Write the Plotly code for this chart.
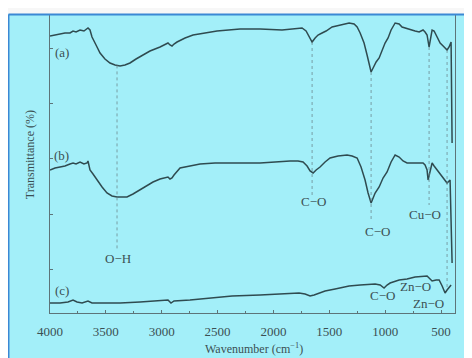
import numpy as np
import plotly.graph_objects as go

# ---------------- data ----------------
# wavenumber (cm^-1) and transmittance (arbitrary, offset units)
wn_a = [4000,3955,3910,3866,3821,3794,3767,3731,3696,3660,3642,3624,3588,3552,3508,3463,3418,3373,3329,3284,
        3230,3167,3105,3015,2961,2944,2926,2908,2890,2863,2791,2720,2612,2505,2299,2119,1923,1806,1744,1708,
        1672,1654,1627,1601,1565,1529,1475,1404,1323,1278,1251,1224,1189,1162,1144,1126,1108,1081,1054,1028,
        1001,974,947,911,875,849,822,777,732,696,661,643,625,607,598,580,562,553,526,508,481,446,428,410,401]
t_a = [277,278,279,280,280,282,281,283,282,285,283,276,268,260,254,250,248,247,248,250,
       254,258,262,266,269,270,268,267,269,271,275,278,280,282,284,284,283,284,285,282,
       275,271,275,278,280,282,286,288,290,289,286,280,270,258,248,241,245,251,255,263,
       270,275,283,290,289,286,285,283,282,281,283,281,278,266,273,283,282,280,275,270,267,263,266,271,170]

wn_b = [4000,3955,3910,3866,3821,3794,3767,3731,3696,3669,3660,3642,3615,3579,3534,3490,3445,3400,3355,3311,
        3257,3194,3132,3078,3015,2961,2944,2926,2908,2890,2863,2836,2747,2657,2523,2415,2120,1851,1780,1735,
        1699,1672,1645,1618,1583,1538,1493,1422,1341,1296,1251,1216,1180,1153,1126,1108,1090,1054,1019,983,
        947,911,875,840,804,741,687,661,643,625,616,598,580,562,535,499,464,446,419,401]
t_b = [143,145,146,147,149,150,149,151,149,150,152,143,139,133,126,120,117,116,116,116,
       119,123,127,131,134,136,136,134,135,138,142,145,147,149,150,150,150,152,152,151,
       147,142,140,143,146,151,155,157,158,157,155,146,133,120,110,115,120,126,135,141,
       151,158,156,152,150,150,150,150,148,143,133,141,150,147,143,137,132,130,133,50]

wn_c = [4000,3910,3839,3794,3758,3713,3660,3624,3552,3373,3194,3015,2944,2917,2890,2747,2567,2370,2120,1941,
        1771,1717,1672,1636,1583,1538,1448,1323,1224,1090,1045,1010,983,956,875,804,732,669,625,598,
        580,544,517,490,464,446,428,410]
t_c = [10,10,11,13,11,10,12,10,10,10,11,12,13,10,12,13,15,17,18,19,
       20,19,17,18,20,22,24,27,28,29,28,25,28,30,33,34,36,37,37,34,
       32,33,33,27,20,23,25,28]

# assigned bands: wavenumber and the level where each dotted guide ends
band_wn = [3400, 1654, 1126, 607, 446]
band_end = [63, 118, 91, 108, 25]

# text labels
lab_text = ["(a)", "(b)", "(c)", "O\u2212H", "C\u2212O", "C\u2212O", "Cu\u2212O", "C\u2212O", "Zn\u2212O", "Zn\u2212O"]
lab_wn   = [3893, 3893, 3893, 3391, 1645, 1072, 643, 1028, 732, 616]
lab_t    = [261, 158, 23, 55, 112, 82, 99, 18, 27, 10]

x_ticks = [4000, 3500, 3000, 2500, 2000, 1500, 1000, 500]
y_ticks = [44, 99, 155, 210, 265]

# ---------------- style ----------------
CYAN = "#a3eff9"
LINE = "#2f4b50"
AXIS = "#5d7479"
TXT = "#3b4f53"
FONT = "Liberation Serif"

fig = go.Figure()
for wn, t in [(wn_a, t_a), (wn_b, t_b), (wn_c, t_c)]:
    fig.add_trace(go.Scatter(x=wn, y=t, mode="lines",
                             line=dict(color=LINE, width=1.5), hoverinfo="skip",
                             showlegend=False))

# dotted guides from curve (a) down to their label
wa = np.array(wn_a[::-1], dtype=float)
ta = np.array(t_a[::-1], dtype=float)
for w, e in zip(band_wn, band_end):
    top = float(np.interp(w, wa, ta))
    fig.add_trace(go.Scatter(x=[w, w], y=[top, e], mode="lines",
                             line=dict(color="#6d8a90", width=0.8, dash="dot"),
                             hoverinfo="skip", showlegend=False))

for s, w, t in zip(lab_text, lab_wn, lab_t):
    fig.add_annotation(x=w, y=t, text=s, showarrow=False,
                       font=dict(family=FONT, size=13, color=TXT),
                       xanchor="center", yanchor="middle")

# axis titles
fig.add_annotation(xref="paper", yref="paper", x=0.504, y=-0.118,
                   text="Wavenumber (cm<sup>\u22121</sup>)", showarrow=False,
                   font=dict(family=FONT, size=12, color=TXT),
                   xanchor="center", yanchor="middle")
fig.add_annotation(xref="paper", yref="paper", x=-0.049, y=0.53,
                   text="Transmittance (%)", showarrow=False, textangle=-90,
                   font=dict(family=FONT, size=12, color=TXT),
                   xanchor="center", yanchor="middle")

# frame: white strip at the top and blue border
fig.add_shape(type="rect", xref="paper", yref="paper", x0=-0.2, x1=1.1, y0=1.0034, y1=1.2,
              fillcolor="#f7f7f7", line=dict(width=0), layer="above")
fig.add_shape(type="line", xref="paper", yref="paper", x0=-0.1025, x1=1.1, y0=1.0017, y1=1.0017,
              line=dict(color="#3b88d4", width=2), layer="above")
fig.add_shape(type="line", xref="paper", yref="paper", x0=-0.1025, x1=-0.1025, y0=-0.3, y1=1.0017,
              line=dict(color="#3b88d4", width=2), layer="above")

fig.update_layout(
    width=464, height=350,
    margin=dict(l=42, r=17, t=7, b=45),
    paper_bgcolor=CYAN, plot_bgcolor=CYAN,
    showlegend=False,
    xaxis=dict(range=[4000, 375], tickvals=x_ticks, ticks="inside", ticklen=3,
               tickcolor=AXIS, showline=True, linecolor=AXIS, linewidth=1,
               showgrid=False, zeroline=False, ticklabelstandoff=6,
               minor=dict(dtick=250, ticks="inside", ticklen=2, tickcolor=AXIS),
               tickfont=dict(family=FONT, size=13, color=TXT)),
    yaxis=dict(range=[0, 298], tickvals=y_ticks, ticks="inside", ticklen=3,
               tickcolor=AXIS, showticklabels=False, showline=True, linecolor=AXIS,
               linewidth=1, mirror=True, showgrid=False, zeroline=False),
)

fig.write_html("out.html")
